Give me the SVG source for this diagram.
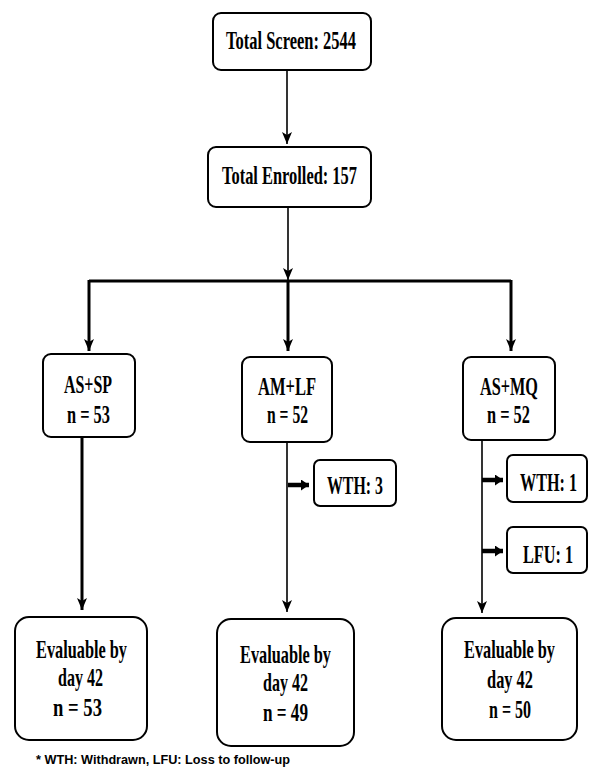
<svg xmlns="http://www.w3.org/2000/svg" width="589" height="768" viewBox="0 0 589 768">
<style>
.box{fill:#fff;stroke:#000;stroke-width:2}
.t{font-family:"Liberation Serif","Times New Roman",serif;font-weight:bold;font-size:25px;fill:#000;text-anchor:middle}
.thin{fill:none;stroke:#000;stroke-width:1.6}
.thick{fill:none;stroke:#000;stroke-width:3}
.side{fill:none;stroke:#000;stroke-width:4.5}
.fn{font-family:"Liberation Sans",Arial,sans-serif;font-weight:bold;font-size:12px;fill:#000}
</style>
<defs>
<marker id="ah" viewBox="0 0 12 10" refX="12" refY="5" markerWidth="12" markerHeight="10" markerUnits="userSpaceOnUse" orient="auto"><path d="M0,0 L12,5 L0,10 L3,5 z" fill="#000"/></marker>
<marker id="ahs" viewBox="0 0 8 11" refX="8" refY="5.5" markerWidth="8" markerHeight="11" markerUnits="userSpaceOnUse" orient="auto"><path d="M0,0 L8,5.5 L0,11 z" fill="#000"/></marker>
</defs>
<g id="connectors">
<path class="thin" d="M287,70 V144" marker-end="url(#ah)"/>
<path class="thin" d="M288,207 V280" marker-end="url(#ah)"/>
<path class="thick" d="M89,281 H511"/>
<path class="thick" d="M89,280 V351" marker-end="url(#ah)"/>
<path class="thick" d="M288,281 V351" marker-end="url(#ah)"/>
<path class="thick" d="M511,280 V351" marker-end="url(#ah)"/>
<path class="thick" d="M82,437 V610" marker-end="url(#ah)"/>
<path class="thin" d="M287,442 V612" marker-end="url(#ah)"/>
<path class="thin" d="M482,440 V613" marker-end="url(#ah)"/>
<path class="side" d="M288,485 H309" marker-end="url(#ahs)"/>
<path class="side" d="M482,480 H503" marker-end="url(#ahs)"/>
<path class="side" d="M482,551 H503" marker-end="url(#ahs)"/>
</g>
<g id="screen"><rect class="box" x="213" y="13" width="158" height="57" rx="8"/><text class="t" transform="translate(291,49) scale(0.68,1)" textLength="191" lengthAdjust="spacingAndGlyphs">Total Screen: 2544</text></g>
<g id="enrolled"><rect class="box" x="208" y="147" width="163" height="60" rx="8"/><text class="t" transform="translate(289.5,184) scale(0.68,1)" textLength="198.5" lengthAdjust="spacingAndGlyphs">Total Enrolled: 157</text></g>
<g id="assp"><rect class="box" x="43" y="354" width="92" height="83" rx="8"/><text class="t" transform="translate(88,393) scale(0.68,1)" textLength="70.6" lengthAdjust="spacingAndGlyphs">AS+SP</text><text class="t" transform="translate(88.5,423) scale(0.68,1)" textLength="63.2" lengthAdjust="spacingAndGlyphs">n = 53</text></g>
<g id="amlf"><rect class="box" x="242" y="357" width="90" height="85" rx="8"/><text class="t" transform="translate(287,395) scale(0.68,1)" textLength="85.3" lengthAdjust="spacingAndGlyphs">AM+LF</text><text class="t" transform="translate(287.5,423) scale(0.68,1)" textLength="60.3" lengthAdjust="spacingAndGlyphs">n = 52</text></g>
<g id="asmq"><rect class="box" x="463" y="357" width="92" height="83" rx="8"/><text class="t" transform="translate(509,395) scale(0.68,1)" textLength="85.3" lengthAdjust="spacingAndGlyphs">AS+MQ</text><text class="t" transform="translate(508.5,423) scale(0.68,1)" textLength="63.2" lengthAdjust="spacingAndGlyphs">n = 52</text></g>
<g id="wth3"><rect class="box" x="314" y="460" width="82" height="46" rx="6"/><text class="t" transform="translate(355,494) scale(0.68,1)" textLength="82.4" lengthAdjust="spacingAndGlyphs">WTH: 3</text></g>
<g id="wth1"><rect class="box" x="507" y="455" width="80" height="47" rx="6"/><text class="t" transform="translate(548.5,491) scale(0.68,1)" textLength="83.8" lengthAdjust="spacingAndGlyphs">WTH: 1</text></g>
<g id="lfu1"><rect class="box" x="507" y="527" width="80" height="46" rx="6"/><text class="t" transform="translate(548,563) scale(0.68,1)" textLength="73.5" lengthAdjust="spacingAndGlyphs">LFU: 1</text></g>
<g id="eval1"><rect class="box" x="15" y="617" width="132" height="123" rx="14"/><text class="t" transform="translate(81.5,658) scale(0.68,1)" textLength="133.8" lengthAdjust="spacingAndGlyphs">Evaluable by</text><text class="t" transform="translate(80.5,686) scale(0.68,1)" textLength="66.2" lengthAdjust="spacingAndGlyphs">day 42</text><text class="t" transform="translate(77.5,716) scale(0.68,1)" textLength="72" lengthAdjust="spacingAndGlyphs">n = 53</text></g>
<g id="eval2"><rect class="box" x="217" y="619" width="137" height="127" rx="14"/><text class="t" transform="translate(285.5,663) scale(0.68,1)" textLength="133.8" lengthAdjust="spacingAndGlyphs">Evaluable by</text><text class="t" transform="translate(285.5,691) scale(0.68,1)" textLength="66.2" lengthAdjust="spacingAndGlyphs">day 42</text><text class="t" transform="translate(285.5,721) scale(0.68,1)" textLength="66.2" lengthAdjust="spacingAndGlyphs">n = 49</text></g>
<g id="eval3"><rect class="box" x="442" y="618" width="135" height="122" rx="14"/><text class="t" transform="translate(509.5,658) scale(0.68,1)" textLength="133.8" lengthAdjust="spacingAndGlyphs">Evaluable by</text><text class="t" transform="translate(510,688) scale(0.68,1)" textLength="67.6" lengthAdjust="spacingAndGlyphs">day 42</text><text class="t" transform="translate(510,718) scale(0.68,1)" textLength="61.8" lengthAdjust="spacingAndGlyphs">n = 50</text></g>
<text class="fn" x="36" y="764" textLength="254" lengthAdjust="spacingAndGlyphs">* WTH: Withdrawn, LFU: Loss to follow-up</text>
</svg>
